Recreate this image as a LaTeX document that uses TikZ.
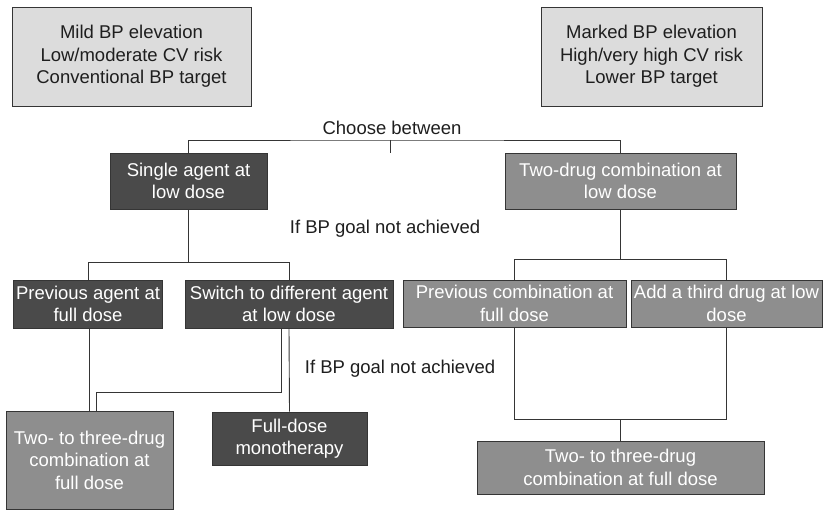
\documentclass[tikz,border=0pt]{standalone}
\usepackage{fontspec}
\setmainfont{Liberation Sans}
\usetikzlibrary{positioning,calc}
\definecolor{boxdark}{HTML}{4A4A4A}
\definecolor{boxmid}{HTML}{8E8E8E}
\definecolor{boxlight}{HTML}{DCDCDC}
\definecolor{linec}{HTML}{353535}
\definecolor{inkc}{HTML}{1E1E1E}

\begin{document}
\begin{tikzpicture}[x=1pt, y=-1pt,
  font=\fontsize{18.5}{22.5}\selectfont,
  box/.style={draw=linec, line width=0.9pt, align=center, inner sep=0pt},
  cond/.style={box, fill=boxlight, text=inkc},
  darkbox/.style={box, fill=boxdark, text=white},
  midbox/.style={box, fill=boxmid, text=white},
  link/.style={draw=linec, line width=0.9pt},
  lab/.style={text=inkc}]
\useasboundingbox (0,0) rectangle (823,510);
% starting situations
\node[cond, minimum width=239pt, minimum height=99pt] (mild) at (131.5,56.5)
  {Mild BP elevation\\Low/moderate CV risk\\Conventional BP target};
\node[cond, minimum width=221pt, minimum height=99pt] (marked) at (651.5,56.5)
  {Marked BP elevation\\High/very high CV risk\\Lower BP target};
\node[lab] (choose) at (392,128) {Choose between};
% first step
\node[darkbox, minimum width=157pt, minimum height=56pt] (single) at (188.5,181) {Single agent at\\low dose};
\node[midbox, minimum width=231pt, minimum height=56pt] (twodrug) at (620.5,181) {Two-drug combination at\\low dose};
\node[lab] (goal1) at (385,229) {If BP goal not achieved};
% second step
\node[darkbox, minimum width=149pt, minimum height=48pt] (prevagent) at (88,304) {Previous agent at\\full dose};
\node[darkbox, minimum width=208pt, minimum height=48pt] (switch) at (289,304) {Switch to different agent\\at low dose};
\node[midbox, minimum width=223pt, minimum height=47pt] (prevcomb) at (514.5,303.5) {Previous combination at\\full dose};
\node[midbox, minimum width=191pt, minimum height=47pt] (third) at (726.5,303.5) {Add a third drug at low\\dose};
\node[lab] (goal2) at (400,369) {If BP goal not achieved};
% third step
\node[midbox, minimum width=167pt, minimum height=98pt] (twothree) at (89.5,460) {Two- to three-drug\\combination at\\full dose};
\node[darkbox, minimum width=155pt, minimum height=53pt] (fulldose) at (289.5,438.5) {Full-dose\\monotherapy};
\node[midbox, minimum width=287pt, minimum height=53pt] (twothreeR) at (620.5,467.5) {Two- to three-drug\\combination at full dose};
% connectors
\coordinate (bar) at (390,140);
\coordinate (tick) at (390,153);
\draw[link] (single.north) |- (bar) -| (twodrug.north);
\draw[link] (bar) -- (tick);
\draw[link] (single.south) -- ++(0,53) coordinate (s1);
\draw[link] (prevagent.north) |- (s1) -| (switch.north);
\draw[link] (twodrug.south) -- ++(0,50) coordinate (s2);
\draw[link] (prevcomb.north) |- (s2) -| (third.north);
\draw[link] (twothree.north |- prevagent.south) -- (twothree.north);
\draw[link] ([xshift=-8pt]switch.south) -- ++(0,64) -| ([xshift=7pt]twothree.north);
\draw[link] (switch.south) -- (fulldose.north);
\coordinate (s3) at ($(twothreeR.north)+(0,-21)$);
\draw[link] (prevcomb.south) |- (s3) -| (third.south);
\draw[link] (s3) -- (twothreeR.north);
\end{tikzpicture}
\end{document}
